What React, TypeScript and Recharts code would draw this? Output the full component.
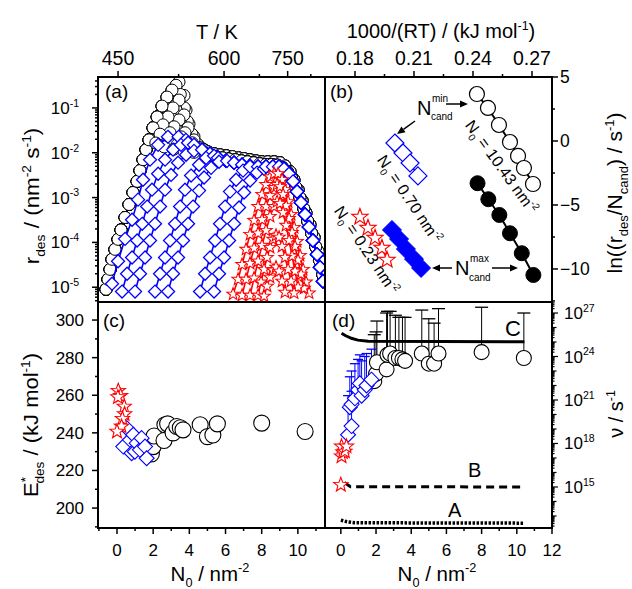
import React from 'react';
import { ScatterChart, Scatter, XAxis, YAxis, ErrorBar } from 'recharts';

type P = [number, number];
const FONT = '"Liberation Sans", Arial, Helvetica, sans-serif';
const BLUE = '#0000ff';
const RED = '#ff0000';
const BLACK = '#000000';

// ---------- layout (px) ----------
const L = 98, M = 325, R = 552, T0 = 77, MID = 302, B = 528;

// ---------- panel (a): desorption rate curves [T / K, r_des / nm^-2 s^-1] ----------
const blackLead: P[] = [[437.6,9e-6],[439.6,1.5e-5],[441.7,2.5e-5],[443.7,4.2e-5],[446.8,7e-5],[450,1.17e-4],[453.2,1.9e-4],[457.6,3.6e-4],[462,7e-4],[466.5,1.3e-3],[471.2,2.3e-3],[474.6,4e-3],[478.2,7e-3],[481.8,0.0117],[485.5,0.0194],[490.5,0.036],[495.7,0.063],[502.1,0.11],[508.7,0.175],[515.6,0.25],[521.3,0.32],[525.6,0.38]];
const blackPeakIdx = [21, 20, 19, 18, 17, 16, 15, 14];
const blackDrop1: P[] = [[532.9,0.19],[536,0.09],[540.5,0.044],[548.2,0.023],[556.3,0.0143]];
const blackDrop2: P[] = [[527.5,0.2],[533.5,0.1],[538,0.05],[545,0.026],[553,0.016]];
const blackDrop3: P[] = [[525.6,0.15],[532.9,0.07],[539,0.036],[548.2,0.0194],[557.9,0.013]];
const blackDrop4: P[] = [[517.1,0.1],[525.6,0.054],[534.4,0.028],[545.3,0.0167],[556.3,0.0123]];
const blackDrop5: P[] = [[510.2,0.063],[518.5,0.038],[528.5,0.0227],[539,0.015],[551.4,0.0117]];
const blackDrop6: P[] = [[503.4,0.042],[512.9,0.028],[525.6,0.0194],[536,0.0143],[549.8,0.0117]];
const blackDrop7: P[] = [[499.5,0.026],[510.2,0.0194],[522.7,0.015],[536,0.0123],[549.8,0.011]];
const blackDrop8: P[] = [[494,0.0165],[505,0.0135],[518,0.012],[533,0.0108],[548,0.0102]];
const blackTail: P[] = [[564,0.0117],[571,0.0105],[582,0.0095],[592.5,0.009],[604,0.0086],[616,0.0082],[629,0.0077],[640,0.0074],[653,0.007],[667,0.0066],[681,0.0063],[696,0.0063],[712,0.0063],[728,0.006],[742,0.0051],[757,0.0038],[769,0.0025],[782,0.0015],[795,8.6e-4],[808,4.6e-4],[822,2.5e-4],[837,1.3e-4],[852,6.3e-5],[864,3.2e-5],[875,1.5e-5]];
const blackTail2: P[] = [[566,0.0098],[575,0.0088],[586,0.0081],[597,0.0077],[609,0.0073],[622,0.007],[635,0.0066],[648,0.0063],[662,0.006],[676,0.0057],[691,0.0055],[706,0.0055],[721,0.0053],[735,0.0047],[749,0.0038],[762,0.0027],[775,0.0017],[788,0.001],[801,5.6e-4],[814,3e-4],[828,1.6e-4],[843,8e-5],[857,4e-5],[870,1.9e-5]];

const blueEnv: P[] = [[535.9,0.0194],[548.2,0.015],[561.2,0.0117],[574.7,0.0095],[588.9,0.0077],[603.8,0.0066],[619.5,0.006],[636,0.0054],[653.4,0.0051],[671.8,0.0049],[691.2,0.0049],[709,0.0049],[725.4,0.0049],[739.5,0.0044],[754,0.0034],[766.3,0.0023],[778.8,0.00136],[791.6,7.7e-4],[805,4.2e-4],[818.6,2.2e-4],[832.7,1.1e-4],[848,5.4e-5],[859.3,2.8e-5],[871,1.36e-5]];
const blue1: P[] = [[443.7,1.2e-5],[450,3.8e-5],[457.6,1.2e-4],[465.4,3.2e-4],[472.3,9e-4],[478.2,2.5e-3],[486.7,7e-3],[497,0.015],[510,0.0227],[525,0.0227]];
const blue2: P[] = [[454.3,8e-6],[459.8,2e-5],[465.4,4.6e-5],[471.2,1.1e-4],[477.2,2.6e-4],[483.2,6.3e-4],[489.2,1.5e-3],[497,3.4e-3],[506.1,7e-3],[517.1,0.0117],[528.5,0.015],[539,0.0167]];
const blue3: P[] = [[468.8,8e-6],[474.6,2e-5],[480.6,4.6e-5],[486.7,1.1e-4],[493,2.6e-4],[499.5,6.3e-4],[506.1,1.5e-3],[514.3,3.2e-3],[524.2,6e-3],[536,9e-3],[548.2,0.011],[561.2,0.0117]];
const blue4: P[] = [[493,8e-6],[499.5,2e-5],[506.1,4.6e-5],[512.9,1.1e-4],[519.9,2.6e-4],[527.1,6.3e-4],[534.4,1.5e-3],[543.6,3.1e-3],[556.3,5.4e-3],[567.9,7.7e-3],[581.7,8.6e-3]];
const blue5: P[] = [[510.2,8e-6],[517.1,2e-5],[524.2,4.6e-5],[531.5,1.1e-4],[539,2.6e-4],[546.7,6.3e-4],[556.3,1.43e-3],[564.5,2.8e-3],[576.5,4.6e-3],[590.7,6.3e-3],[605.8,6.6e-3]];
const blue6: P[] = [[557.9,8e-6],[566.2,2e-5],[574.7,4.6e-5],[583.5,1.1e-4],[592.5,2.6e-4],[601.9,6.3e-4],[611.5,1.36e-3],[623.6,2.5e-3],[638.1,4e-3],[653.4,4.9e-3]];
const blue7: P[] = [[581.7,8e-6],[590.7,2e-5],[600,4.6e-5],[609.6,1.1e-4],[619.5,2.6e-4],[629.7,6e-4],[640.3,1.3e-3],[653.4,2.4e-3],[669.4,3.6e-3],[686.2,4.4e-3]];

const red1: P[] = [[617.5,7e-6],[627.7,1.5e-5],[636,3.2e-5],[644.6,7e-5],[653.4,1.5e-4],[662.5,3.1e-4],[671.8,6.3e-4],[681.4,1.17e-3],[691.2,1.95e-3],[701.4,2.9e-3],[711.9,3.4e-3],[722.7,3.4e-3],[733.8,2.5e-3],[742.3,1.5e-3],[751.2,8.1e-4],[760.2,4.2e-4],[769.4,2.15e-4],[778.8,1.05e-4],[788.3,5.1e-5],[798.3,2.5e-5],[808.5,1.3e-5],[818.8,7.4e-6]];
const red2: P[] = [[636,6.6e-6],[644.6,1.5e-5],[653.4,3.4e-5],[662.5,7.4e-5],[671.8,1.6e-4],[681.4,3.2e-4],[691.2,6.3e-4],[701.4,1.1e-3],[711.9,1.67e-3],[720,1.95e-3],[728.2,1.75e-3],[736.7,1.17e-3],[745.3,6.6e-4],[754.2,3.4e-4],[763.3,1.67e-4],[772.4,8.1e-5],[781.9,4e-5],[791.6,1.95e-5],[801.7,9.5e-6]];
const red3: P[] = [[653.4,6.6e-6],[662.5,1.6e-5],[671.8,3.8e-5],[681.4,8.6e-5],[691.2,1.85e-4],[701.4,3.8e-4],[711.9,6.3e-4],[720,8.1e-4],[728.2,7.4e-4],[736.7,4.6e-4],[745.3,2.4e-4],[754.2,1.1e-4],[763.3,4.9e-5],[772.4,2.27e-5],[781.9,1e-5]];
const red4: P[] = [[671.8,6.6e-6],[678.9,1.3e-5],[686.3,2.5e-5],[693.8,4.6e-5],[701.4,7.7e-5],[709.3,1.17e-4],[717.2,1.43e-4],[725.5,1.3e-4],[733.8,8.1e-5],[742.3,4.6e-5],[751.2,2.5e-5],[760.2,1.36e-5],[769.4,7.4e-6]];
const red5: P[] = [[686.3,6.3e-6],[693.8,1.05e-5],[701.4,1.67e-5],[709.3,2.4e-5],[717.2,2.8e-5],[725.5,2.27e-5],[733.8,1.36e-5],[742.3,7.7e-6]];

const aTopMajor = [450, 600, 750];
const aTopMinor = [525, 675, 825];
const aTRange: P = [429.7, 879];
const aRateRange: P = [4.68e-6, 0.49];

// ---------- panel (b): Arrhenius plots [1000/(RT), ln(r/Ncand)] ----------
const bOpenCircX = [0.2420, 0.2476, 0.2532, 0.2588, 0.2629, 0.2659, 0.2705];
const bOpenCircY = [3.67, 2.58, 1.25, -0.08, -1.17, -2.11, -3.36];
const bFillCircX = [0.2423, 0.2478, 0.2534, 0.2588, 0.2648, 0.2707];
const bFillCircY = [-3.30, -4.55, -5.78, -7.21, -8.77, -10.47];
const bOpenDiaX = [0.2003, 0.2044, 0.2080, 0.2120];
const bOpenDiaY = [-0.16, -0.94, -1.72, -2.73];
const bFillDiaX = [0.1988, 0.2024, 0.2059, 0.2100, 0.2136];
const bFillDiaY = [-6.95, -7.66, -8.44, -9.22, -9.92];
const bStarX = [0.1825, 0.1866, 0.1902, 0.1937, 0.1963];
const bStarY = [-5.94, -6.80, -7.58, -8.36, -9.30];
const bTopMajor = [0.18, 0.21, 0.24, 0.27];
const bTopMinor = [0.195, 0.225, 0.255];
const bRightMajor = [5, 0, -5, -10];
const bRightMinor = [2.5, -2.5, -7.5, -12.5];
const bXRange: P = [0.16475, 0.28017];
const bYRange: P = [-12.58, 5];

// ---------- panel (c): E*des vs N0 ----------
const cCircN = [1.9, 2.0, 2.05, 2.6, 2.65, 2.8, 3.1, 3.3, 3.5, 3.65, 4.6, 5.0, 5.3, 5.55, 8.0, 10.4];
const cCircE = [228.8, 232.7, 238.3, 235.9, 244.3, 244.8, 240, 243.4, 242.7, 241.6, 244.3, 238, 238.9, 244.8, 245.2, 240.7];
const cDiaN = [0.35, 0.54, 0.72, 0.81, 0.9, 0.99, 1.09, 1.27, 1.36, 1.55, 1.64];
const cDiaE = [232.7, 242.5, 236.3, 229.2, 239, 230, 234.5, 231, 237.2, 232.7, 226.5];
const cStarN = [0.07, 0.2, 0.05, 0.4, 0.42, 0.3, 0.25, 0.0];
const cStarE = [262.4, 259.7, 259, 254, 250, 247.5, 243.4, 240.7];
const cYMajor = [200, 220, 240, 260, 280, 300];
const cYMinor = [190, 210, 230, 250, 270, 290];
const cXMajor = [0, 2, 4, 6, 8, 10];
const cXMinor = [-1, 1, 3, 5, 7, 9, 11];
const cXRange: P = [-1.05, 11.5];
const cYRange: P = [189.4, 309.6];

// ---------- panel (d): prefactor nu vs N0 ----------
const dCircN = [1.9, 2.0, 2.05, 2.6, 2.65, 2.8, 3.1, 3.3, 3.5, 3.65, 4.6, 5.0, 5.3, 5.55, 8.0, 10.4];
const dCircNu = [2e22, 6.3e22, 4e23, 1.3e23, 1.3e24, 1.6e24, 7.9e23, 7.9e23, 6.3e23, 5e23, 1.6e24, 3.2e23, 3.2e23, 1.6e24, 2e24, 7.9e23];
const dCircTop = [3.2e25, 5e25, 2.8e26, 1e27, 1.3e27, 1.3e27, 7e26, 5e26, 5e26, 5e26, 1.6e27, 4e26, 2e26, 2e27, 2.5e27, 1e27];
const dDiaN = [0.41, 0.51, 0.61, 0.61, 0.8, 0.98, 1.08, 1.18, 1.36, 1.46, 1.74];
const dDiaNu = [4e18, 3.2e20, 1.6e19, 5e20, 1.3e21, 5e21, 1.4e22, 2e21, 5e21, 1e22, 2.5e22];
const dDiaTop = [2e21, 4e22, 4e21, 1e23, 3.2e23, 6.3e23, 1.3e24, 5e23, 1e24, 1.6e24, 3.2e24];
const dStarN = [0.0, 0.04, 0.04, 0.12, 0.23, 0.32];
const dStarNu = [1.4e15, 1.3e17, 6.3e17, 2.5e17, 2.8e17, 6.3e17];
const lineCN = [0.04, 0.25, 0.6, 0.97, 1.55, 10.43];
const lineCNu = [4e25, 2.8e25, 1.8e25, 1.35e25, 1.12e25, 1.05e25];
const lineBN = [0.2, 0.55, 10.43];
const lineBNu = [2e15, 1.05e15, 1e15];
const lineAN = [0.0, 0.35, 0.8, 10.43];
const lineANu = [5.2e12, 4e12, 3.4e12, 3.2e12];
const dXMajor = [0, 2, 4, 6, 8, 10, 12];
const dXMinor = [1, 3, 5, 7, 9, 11];
const dLabelExp = [15, 18, 21, 24, 27];
const dXRange: P = [-0.9, 12];
const dYRange: P = [1.48e12, 5.75e27];

// ---------- data tables ----------
const toA = (c: P[]) => c.map(([t, r]) => ({ x: 1000 / t, y: r }));
const blackDrops = [blackDrop1, blackDrop2, blackDrop3, blackDrop4, blackDrop5, blackDrop6, blackDrop7, blackDrop8];
const blackTails = [blackTail, blackTail, blackTail, blackTail, blackTail2, blackTail2, blackTail2, blackTail2];
const blackCurves = blackPeakIdx.map((k, i) => toA([...blackLead.slice(0, k + 1), ...blackDrops[i], ...blackTails[i]]));
const blueCurves = [blue1, blue2, blue3, blue4, blue5, blue6, blue7].map((c) => {
  const last = c[c.length - 1][0];
  return toA([...c, ...blueEnv.filter((p) => p[0] > last + 4)]);
});
const redCurves = [red1, red2, red3, red4, red5].map(toA);
const zipXY = (xs: number[], ys: number[]) => xs.map((x, i) => ({ x, y: ys[i] }));
const zipErr = (xs: number[], ys: number[], tops: number[]) => xs.map((x, i) => ({ x, y: ys[i], err: [0, tops[i] - ys[i]] }));

const logTicks = (lo: number, hi: number, e0: number, e1: number) => {
  const out: number[] = [];
  for (let e = e0; e <= e1; e++) for (let m = 1; m <= 9; m++) {
    const v = Number(`${m}e${e}`);
    if (v >= lo && v <= hi) out.push(v);
  }
  return out;
};
const aYTicks = logTicks(aRateRange[0], aRateRange[1], -6, 0);
const dYTicks = logTicks(dYRange[0], dYRange[1], 12, 27);
const mantissa = (v: number) => Math.round(v / Math.pow(10, Math.floor(Math.log10(v) + 1e-9)));
const expo = (v: number) => Math.round(Math.log10(v));

// ---------- shapes ----------
const mkCircle = (r: number, stroke: string, fill: string, sw = 1) => (p: any) =>
  p.cx == null ? <g /> : <circle cx={p.cx} cy={p.cy} r={r} stroke={stroke} fill={fill} strokeWidth={sw} />;
const mkDiamond = (h: number, stroke: string, fill: string, sw = 1) => (p: any) =>
  p.cx == null ? <g /> : (
    <polygon points={`${p.cx},${p.cy - h} ${p.cx + h},${p.cy} ${p.cx},${p.cy + h} ${p.cx - h},${p.cy}`} stroke={stroke} fill={fill} strokeWidth={sw} />
  );
const mkStar = (Rr: number, stroke: string, fill: string, sw = 1) => (p: any) => {
  if (p.cx == null) return <g />;
  const pts: string[] = [];
  for (let i = 0; i < 10; i++) {
    const rr = i % 2 === 0 ? Rr : Rr * 0.42;
    const a = -Math.PI / 2 + (i * Math.PI) / 5;
    pts.push(`${p.cx + rr * Math.cos(a)},${p.cy + rr * Math.sin(a)}`);
  }
  return <polygon points={pts.join(' ')} stroke={stroke} fill={fill} strokeWidth={sw} strokeLinejoin="miter" />;
};
const mkCap = (hw: number, stroke: string) => (p: any) =>
  p.cx == null ? <g /> : <line x1={p.cx - hw} x2={p.cx + hw} y1={p.cy} y2={p.cy} stroke={stroke} strokeWidth={1.3} />;
const noShape = () => <g />;

// ---------- rich text ----------
type Seg = [string, ('sup' | 'sub' | '')?, number?];
const Rich = ({ segs, size, ...rest }: { segs: Seg[]; size: number; [k: string]: any }) => {
  let cur = 0;
  return (
    <text fontFamily={FONT} fontSize={size} fill="#000" {...rest}>
      {segs.map((s, i) => {
        const k = s[1];
        const target = k === 'sup' ? -0.42 * size : k === 'sub' ? 0.28 * size : 0;
        const dy = target - cur;
        cur = target;
        return (
          <tspan key={i} dy={dy} dx={s[2] || 0} fontSize={k ? size * 0.62 : size}>
            {s[0]}
          </tspan>
        );
      })}
    </text>
  );
};
const RotRich = ({ x, y, angle, sx = 1, segs, size }: { x: number; y: number; angle: number; sx?: number; segs: Seg[]; size: number }) => (
  <g transform={`translate(${x},${y}) rotate(${angle}) scale(${sx},1)`}>
    <Rich x={0} y={0} textAnchor="middle" segs={segs} size={size} />
  </g>
);

const Arrow = ({ x1, y1, x2, y2 }: { x1: number; y1: number; x2: number; y2: number }) => {
  const a = Math.atan2(y2 - y1, x2 - x1);
  const hl = 8, hw = 3.5;
  const bx = x2 - hl * Math.cos(a), by = y2 - hl * Math.sin(a);
  const p1 = `${bx + hw * Math.sin(a)},${by - hw * Math.cos(a)}`;
  const p2 = `${bx - hw * Math.sin(a)},${by + hw * Math.cos(a)}`;
  return (
    <g>
      <line x1={x1} y1={y1} x2={bx} y2={by} stroke="#000" strokeWidth={1.5} />
      <polygon points={`${x2},${y2} ${p1} ${p2}`} fill="#000" />
    </g>
  );
};

// ---------- ticks ----------
const TK = { stroke: '#000', strokeWidth: 1.5 };
const aTopTick = (p: any) => {
  const T = Math.round(1000 / p.payload.value);
  const major = aTopMajor.includes(T);
  return (
    <g>
      <line x1={p.x} x2={p.x} y1={T0} y2={T0 - (major ? 6 : 3)} {...TK} />
      {major && <text x={p.x} y={65} textAnchor="middle" fontFamily={FONT} fontSize={19.5}>{T}</text>}
    </g>
  );
};
const aLeftTick = (p: any) => {
  const v = p.payload.value;
  const major = mantissa(v) === 1;
  return (
    <g>
      <line x1={L} x2={L - (major ? 6 : 3)} y1={p.y} y2={p.y} {...TK} />
      {major && <Rich x={79} y={p.y + 6} textAnchor="end" size={17} segs={[['10'], [String(expo(v)), 'sup']]} />}
    </g>
  );
};
const bTopTick = (p: any) => {
  const v = p.payload.value;
  const major = bTopMajor.some((m) => Math.abs(m - v) < 1e-6);
  return (
    <g>
      <line x1={p.x} x2={p.x} y1={T0} y2={T0 - (major ? 6 : 3)} {...TK} />
      {major && <text x={p.x} y={65} textAnchor="middle" fontFamily={FONT} fontSize={19.5}>{v.toFixed(2)}</text>}
    </g>
  );
};
const bRightTick = (p: any) => {
  const v = p.payload.value;
  const major = bRightMajor.includes(v);
  return (
    <g>
      <line x1={R} x2={R + (major ? 6 : 3)} y1={p.y} y2={p.y} {...TK} />
      {major && <text x={R + 8} y={p.y + 6} fontFamily={FONT} fontSize={17.5}>{v < 0 ? `\u2212${-v}` : String(v)}</text>}
    </g>
  );
};
const cLeftTick = (p: any) => {
  const v = p.payload.value;
  const major = cYMajor.includes(v);
  return (
    <g>
      <line x1={L} x2={L - (major ? 6 : 3)} y1={p.y} y2={p.y} {...TK} />
      {major && <text x={84} y={p.y + 6} textAnchor="end" fontFamily={FONT} fontSize={17}>{v}</text>}
    </g>
  );
};
const bottomTick = (majors: number[]) => (p: any) => {
  const v = p.payload.value;
  const major = majors.includes(v);
  return (
    <g>
      <line x1={p.x} x2={p.x} y1={B} y2={B + (major ? 6 : 3)} {...TK} />
      {major && <text x={p.x} y={556} textAnchor="middle" fontFamily={FONT} fontSize={17}>{v}</text>}
    </g>
  );
};
const dRightTick = (p: any) => {
  const v = p.payload.value;
  const dec = mantissa(v) === 1;
  const e = expo(v);
  const lab = dec && dLabelExp.includes(e);
  return (
    <g>
      <line x1={R} x2={R + (lab ? 6 : dec ? 4.5 : 2.5)} y1={p.y} y2={p.y} stroke="#000" strokeWidth={1.2} />
      {lab && <Rich x={R + 12} y={p.y + 6} size={17} segs={[['10'], [String(e), 'sup']]} />}
    </g>
  );
};

const chartBox: React.CSSProperties = { position: 'absolute', left: 0, top: 0 };

export default function App() {
  return (
    <div style={{ position: 'absolute', left: 0, top: 0, width: 632, height: 589, background: '#fff', fontFamily: FONT, overflow: 'hidden' }}>
      {/* (a) */}
      <div style={chartBox}>
        <ScatterChart width={632} height={589} margin={{ top: 47, left: 38, right: 307, bottom: 287 }}>
          <XAxis type="number" dataKey="x" orientation="top" height={30} reversed
            domain={[1000 / aTRange[1], 1000 / aTRange[0]]} allowDataOverflow
            ticks={[...aTopMajor, ...aTopMinor].map((t) => 1000 / t)} interval={0}
            tick={aTopTick} tickLine={false} axisLine={false} />
          <YAxis type="number" dataKey="y" scale="log" width={60} domain={aRateRange} allowDataOverflow
            ticks={aYTicks} interval={0} tick={aLeftTick} tickLine={false} axisLine={false} />
          {blackCurves.map((d, i) => (
            <Scatter key={`k${i}`} data={d} shape={mkCircle(6, BLACK, '#fff', 1)} line={{ stroke: BLACK, strokeWidth: 1.2 }} isAnimationActive={false} />
          ))}
          {blueCurves.map((d, i) => (
            <Scatter key={`b${i}`} data={d} shape={mkDiamond(6.5, BLUE, '#fff', 1.3)} line={{ stroke: BLUE, strokeWidth: 1.6 }} isAnimationActive={false} />
          ))}
          {redCurves.map((d, i) => (
            <Scatter key={`r${i}`} data={d} shape={mkStar(6.5, RED, '#fff', 1.1)} line={{ stroke: RED, strokeWidth: 1.6 }} isAnimationActive={false} />
          ))}
        </ScatterChart>
      </div>
      {/* (b) */}
      <div style={chartBox}>
        <ScatterChart width={632} height={589} margin={{ top: 47, left: 325, right: 20, bottom: 287 }}>
          <XAxis type="number" dataKey="x" orientation="top" height={30} domain={bXRange} allowDataOverflow
            ticks={[...bTopMajor, ...bTopMinor]} interval={0} tick={bTopTick} tickLine={false} axisLine={false} />
          <YAxis type="number" dataKey="y" orientation="right" width={60} domain={bYRange} allowDataOverflow
            ticks={[...bRightMajor, ...bRightMinor]} interval={0} tick={bRightTick} tickLine={false} axisLine={false} />
          <Scatter data={zipXY(bOpenCircX, bOpenCircY)} shape={mkCircle(7.5, BLACK, '#fff', 1.2)} line={{ stroke: BLACK, strokeWidth: 2 }} isAnimationActive={false} />
          <Scatter data={zipXY(bFillCircX, bFillCircY)} shape={mkCircle(7.5, BLACK, BLACK, 1)} line={{ stroke: BLACK, strokeWidth: 2 }} isAnimationActive={false} />
          <Scatter data={zipXY(bOpenDiaX, bOpenDiaY)} shape={mkDiamond(9, BLUE, '#fff', 1.2)} line={{ stroke: BLUE, strokeWidth: 1.5 }} isAnimationActive={false} />
          <Scatter data={zipXY(bFillDiaX, bFillDiaY)} shape={mkDiamond(9.5, BLUE, BLUE, 1)} line={{ stroke: BLUE, strokeWidth: 2 }} isAnimationActive={false} />
          <Scatter data={zipXY(bStarX, bStarY)} shape={mkStar(8.5, RED, '#fff', 1.2)} line={{ stroke: RED, strokeWidth: 1.5 }} isAnimationActive={false} />
        </ScatterChart>
      </div>
      {/* (c) */}
      <div style={chartBox}>
        <ScatterChart width={632} height={589} margin={{ top: 302, left: 38, right: 307, bottom: 31 }}>
          <XAxis type="number" dataKey="x" orientation="bottom" height={30} domain={cXRange} allowDataOverflow
            ticks={[...cXMajor, ...cXMinor]} interval={0} tick={bottomTick(cXMajor)} tickLine={false} axisLine={false} />
          <YAxis type="number" dataKey="y" width={60} domain={cYRange} allowDataOverflow
            ticks={[...cYMajor, ...cYMinor]} interval={0} tick={cLeftTick} tickLine={false} axisLine={false} />
          <Scatter data={zipXY(cCircN, cCircE)} shape={mkCircle(8, BLACK, '#fff', 1.1)} isAnimationActive={false} />
          <Scatter data={zipXY(cDiaN, cDiaE)} shape={mkDiamond(7.5, BLUE, '#fff', 1.1)} isAnimationActive={false} />
          <Scatter data={zipXY(cStarN, cStarE)} shape={mkStar(7.5, RED, '#fff', 1.1)} isAnimationActive={false} />
        </ScatterChart>
      </div>
      {/* (d) */}
      <div style={chartBox}>
        <ScatterChart width={632} height={589} margin={{ top: 302, left: 325, right: 20, bottom: 31 }}>
          <XAxis type="number" dataKey="x" orientation="bottom" height={30} domain={dXRange} allowDataOverflow
            ticks={[...dXMajor, ...dXMinor]} interval={0} tick={bottomTick(dXMajor)} tickLine={false} axisLine={false} />
          <YAxis type="number" dataKey="y" orientation="right" scale="log" width={60} domain={dYRange} allowDataOverflow
            ticks={dYTicks} interval={0} tick={dRightTick} tickLine={false} axisLine={false} />
          <Scatter data={zipXY(lineAN, lineANu)} shape={noShape} line={{ stroke: BLACK, strokeWidth: 3.5, strokeDasharray: '2.5 1.5' }} isAnimationActive={false} />
          <Scatter data={zipXY(lineBN, lineBNu)} shape={noShape} line={{ stroke: BLACK, strokeWidth: 3, strokeDasharray: '8 5' }} isAnimationActive={false} />
          <Scatter data={zipXY(lineCN, lineCNu)} shape={noShape} line={{ stroke: BLACK, strokeWidth: 3 }} isAnimationActive={false} />
          <Scatter data={zipErr(dCircN, dCircNu, dCircTop)} shape={noShape} isAnimationActive={false}>
            <ErrorBar dataKey="err" direction="y" width={0} stroke={BLACK} strokeWidth={1} />
          </Scatter>
          <Scatter data={zipXY(dCircN, dCircTop)} shape={mkCap(6.5, BLACK)} isAnimationActive={false} />
          <Scatter data={zipErr(dDiaN, dDiaNu, dDiaTop)} shape={noShape} isAnimationActive={false}>
            <ErrorBar dataKey="err" direction="y" width={0} stroke={BLUE} strokeWidth={1} />
          </Scatter>
          <Scatter data={zipXY(dDiaN, dDiaTop)} shape={mkCap(5, BLUE)} isAnimationActive={false} />
          <Scatter data={zipXY(dCircN, dCircNu)} shape={mkCircle(7.5, BLACK, '#fff', 1.1)} isAnimationActive={false} />
          <Scatter data={zipXY(dDiaN, dDiaNu)} shape={mkDiamond(7.5, BLUE, '#fff', 1.1)} isAnimationActive={false} />
          <Scatter data={zipXY(dStarN, dStarNu)} shape={mkStar(7.5, RED, '#fff', 1.1)} isAnimationActive={false} />
        </ScatterChart>
      </div>
      {/* frames, titles, annotations */}
      <svg width={632} height={589} style={{ position: 'absolute', left: 0, top: 0, pointerEvents: 'none' }}>
        <g fill="none" stroke="#000" strokeWidth={2}>
          <rect x={L} y={T0} width={M - L} height={MID - T0} />
          <rect x={M} y={T0} width={R - M} height={MID - T0} />
          <rect x={L} y={MID} width={M - L} height={B - MID} />
          <rect x={M} y={MID} width={R - M} height={B - MID} />
        </g>
        <Rich x={217} y={39} textAnchor="middle" size={20} segs={[['T / K']]} />
        <Rich x={441} y={38} textAnchor="middle" size={20} segs={[['1000/(RT) / (kJ mol'], ['-1', 'sup'], [')']]} />
        <Rich x={210} y={581} textAnchor="middle" size={20.5} segs={[['N'], ['0', 'sub'], [' / nm'], ['-2', 'sup']]} />
        <Rich x={437} y={581} textAnchor="middle" size={20.5} segs={[['N'], ['0', 'sub'], [' / nm'], ['-2', 'sup']]} />
        <RotRich x={39} y={196} angle={-90} sx={1.12} size={20} segs={[['r'], ['des', 'sub'], [' / (nm'], ['-2', 'sup'], [' s'], ['-1', 'sup'], [')']]} />
        <RotRich x={38} y={425} angle={-90} sx={1.1} size={20} segs={[['E'], ['*', 'sup'], ['des', 'sub', -6], [' / (kJ mol'], ['-1', 'sup'], [')']]} />
        <RotRich x={622} y={193} angle={-90} sx={1.05} size={20} segs={[['ln((r'], ['des', 'sub'], ['/N'], ['cand', 'sub'], [') / s'], ['-1', 'sup'], [')']]} />
        <RotRich x={623} y={414} angle={-90} size={20} segs={[['\u03bd / s'], ['-1', 'sup']]} />
        <Rich x={105} y={98} size={19} segs={[['(a)']]} />
        <Rich x={330} y={98} size={19} segs={[['(b)']]} />
        <Rich x={103} y={327} size={19} segs={[['(c)']]} />
        <Rich x={332} y={327} size={19} segs={[['(d)']]} />
        <Rich x={417} y={115} size={20} segs={[['N']]} />
        <Rich x={432} y={102} size={10} segs={[['min']]} />
        <Rich x={431} y={120} size={10} segs={[['cand']]} />
        <Arrow x1={446} y1={104} x2={468} y2={104} />
        <Arrow x1={415} y1={121} x2={397} y2={134} />
        <Rich x={455} y={275} size={20} segs={[['N']]} />
        <Rich x={470} y={262} size={10} segs={[['max']]} />
        <Rich x={469} y={281} size={10} segs={[['cand']]} />
        <Arrow x1={452} y1={268} x2={432} y2={268} />
        <Arrow x1={492} y1={268} x2={518} y2={268} />
        <RotRich x={497} y={170} angle={54} size={16} segs={[['N'], ['0', 'sub'], [' = 10.43 nm'], ['-2', 'sup']]} />
        <RotRich x={405} y={202} angle={56} size={16} segs={[['N'], ['0', 'sub'], [' = 0.70 nm'], ['-2', 'sup']]} />
        <RotRich x={362} y={253} angle={56} size={16} segs={[['N'], ['0', 'sub'], [' = 0.23 nm'], ['-2', 'sup']]} />
        <Rich x={505} y={336} size={22} segs={[['C']]} />
        <Rich x={468} y={477} size={20} segs={[['B']]} />
        <Rich x={448} y={517} size={20} segs={[['A']]} />
      </svg>
    </div>
  );
}
